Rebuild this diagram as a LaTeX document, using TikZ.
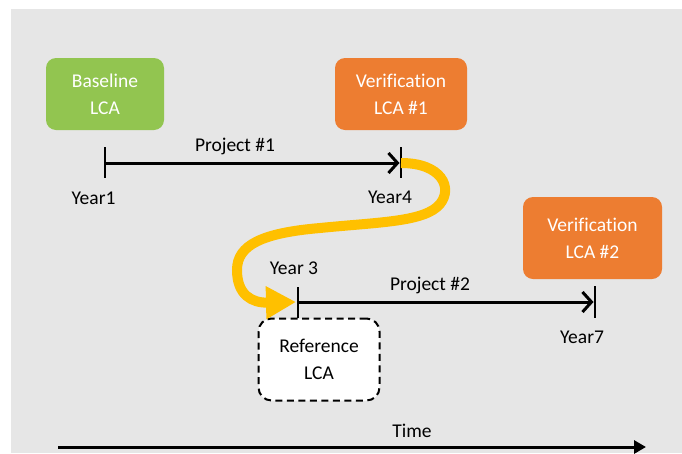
\documentclass[tikz,border=0pt]{standalone}
\usepackage{fontspec}
\setmainfont[Ligatures=NoCommon]{Carlito}
\usetikzlibrary{arrows.meta}
\definecolor{bggray}{HTML}{E6E6E6}
\definecolor{lcagreen}{HTML}{92C550}
\definecolor{lcaorange}{HTML}{ED7D31}
\definecolor{lcayellow}{HTML}{FFC000}
\tikzset{
  lcabox/.style={rounded corners=10pt, minimum width=#1, align=center, text=white,
    font=\fontsize{19.5}{27}\selectfont, inner sep=0pt},
  lbl/.style={anchor=base, font=\fontsize{19.5}{22}\selectfont, text=black, inner sep=0pt},
  tl/.style={line width=3pt, -{Straight Barb[length=9pt,width=20pt,line width=3pt]}},
  tick/.style={line width=2.6pt},
}
\begin{document}
\begin{tikzpicture}[x=1pt,y=-1pt]
\useasboundingbox (0,0) rectangle (682,453);
\fill[white] (0,0) rectangle (682,453);
\fill[bggray] (11,9) rectangle (682,453);

% boxes
\node[lcabox=118pt, minimum height=72pt, fill=lcagreen] (base) at (105,94) {Baseline\\LCA};
\node[lcabox=132pt, minimum height=72pt, fill=lcaorange] (ver1) at (401,94) {Verification\\LCA \#1};
\node[lcabox=139pt, minimum height=82pt, fill=lcaorange] (ver2) at (592.5,238) {Verification\\LCA \#2};
\node[lcabox=121pt, minimum height=82pt, fill=white, draw=black, dashed, line width=2pt,
      dash pattern=on 7pt off 4.5pt, text=black, rounded corners=13pt] (ref) at (319,359.5) {Reference\\LCA};

% timeline coordinates
\coordinate (t1) at (105,163);
\coordinate (t4) at (401,163);
\coordinate (t3) at (298,302);
\coordinate (t7) at (595,302);
\coordinate (ta) at (58,447);
\coordinate (tb) at (646,447);

% ticks
\draw[tick] ([yshift=16pt]t1) -- ([yshift=-15pt]t1);
\draw[tick] ([yshift=16pt]t4) -- ([yshift=-15pt]t4);
\draw[tick] ([yshift=15pt]t3) -- (ref.north -| t3);
\draw[tick] ([yshift=16pt]t7) -- ([yshift=-16pt]t7);

% timelines
\draw[tl, shorten >=1.5pt] (t1) -- (t4);
\draw[tl, shorten >=1.5pt] (t3) -- (t7);
\draw[line width=3pt, -{Triangle[length=12pt,width=13pt]}] (ta) -- (tb);

% yellow connector
\draw[lcayellow, line width=10pt, -{Triangle[length=30pt,width=31pt]}]
  (t4) .. controls (442,163) and (453,188) .. (440,204)
       .. controls (425,222) and (380,222) .. (320,228)
       .. controls (262,233) and (237,245) .. (237,270)
       .. controls (237,295) and (252,303) .. ([xshift=-2pt]t3);

% labels
\node[lbl] (p1) at (235,151) {Project \#1};
\node[lbl] (p2) at (430,290) {Project \#2};
\node[lbl] (y1) at (93.5,204) {Year1};
\node[lbl] (y4) at (390,203) {Year4};
\node[lbl] (y3) at (294,274) {Year 3};
\node[lbl] (y7) at (582,343) {Year7};
\node[lbl] (time) at (412,437) {Time};
\end{tikzpicture}
\end{document}
